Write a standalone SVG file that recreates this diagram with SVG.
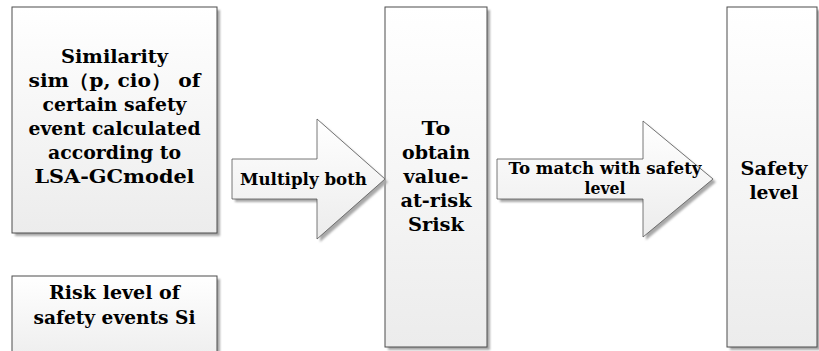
<svg xmlns="http://www.w3.org/2000/svg" width="819" height="351" viewBox="0 0 819 351">
  <defs>
    <linearGradient id="fillGrad" x1="0" y1="0" x2="0" y2="1">
      <stop offset="0" stop-color="#ffffff"/>
      <stop offset="1" stop-color="#ececec"/>
    </linearGradient>
    <filter id="shadow" x="-10%" y="-10%" width="130%" height="130%">
      <feGaussianBlur stdDeviation="1"/>
    </filter>
  </defs>
  <style>
    .box { fill: url(#fillGrad); stroke: #4d4d4d; stroke-width: 1; }
    .arrow { fill: url(#fillGrad); stroke: #555555; stroke-width: 0.8; }
    .shade { fill: #a8a8a8; filter: url(#shadow); }
    .lbl { font-family: "DejaVu Serif", "Liberation Serif", "Times New Roman", serif; font-weight: bold; fill: #000; text-anchor: middle; }
    .big { font-size: 19px; }
    .small { font-size: 16.3px; }
  </style>
  <rect width="819" height="351" fill="#ffffff"/>

  <!-- Box: similarity -->
  <g id="similarity">
    <rect class="shade" x="15" y="10" width="205" height="226"/>
    <rect class="box" x="12" y="7" width="205" height="226"/>
    <text class="lbl big" x="114.5" y="63" textLength="107" lengthAdjust="spacingAndGlyphs">Similarity</text>
    <text class="lbl big" x="114.5" y="87" textLength="172" lengthAdjust="spacingAndGlyphs">sim（p, cio） of</text>
    <text class="lbl big" x="114.5" y="111" textLength="144" lengthAdjust="spacingAndGlyphs">certain safety</text>
    <text class="lbl big" x="114.5" y="135" textLength="172" lengthAdjust="spacingAndGlyphs">event calculated</text>
    <text class="lbl big" x="114.5" y="159" textLength="133" lengthAdjust="spacingAndGlyphs">according to</text>
    <text class="lbl big" x="114.5" y="183" textLength="160" lengthAdjust="spacingAndGlyphs">LSA-GCmodel</text>
  </g>

  <!-- Box: risk level -->
  <g id="risk-level">
    <rect class="shade" x="15" y="279" width="205" height="90"/>
    <rect class="box" x="12" y="276" width="205" height="90"/>
    <text class="lbl big" x="114.5" y="299" textLength="131" lengthAdjust="spacingAndGlyphs">Risk level of</text>
    <text class="lbl big" x="114.5" y="324" textLength="162" lengthAdjust="spacingAndGlyphs">safety events Si</text>
  </g>

  <!-- Box: value-at-risk -->
  <g id="value-at-risk">
    <rect class="shade" x="388" y="10" width="102" height="340"/>
    <rect class="box" x="385" y="7" width="102" height="340"/>
    <text class="lbl big" x="436" y="135" textLength="29" lengthAdjust="spacingAndGlyphs">To</text>
    <text class="lbl big" x="436" y="159" textLength="68" lengthAdjust="spacingAndGlyphs">obtain</text>
    <text class="lbl big" x="436" y="183" textLength="65" lengthAdjust="spacingAndGlyphs">value-</text>
    <text class="lbl big" x="436" y="207" textLength="71" lengthAdjust="spacingAndGlyphs">at-risk</text>
    <text class="lbl big" x="436" y="231" textLength="56" lengthAdjust="spacingAndGlyphs">Srisk</text>
  </g>

  <!-- Box: safety level -->
  <g id="safety-level">
    <rect class="shade" x="730" y="10" width="90" height="340"/>
    <rect class="box" x="727" y="7" width="90" height="340"/>
    <text class="lbl big" x="774" y="175" textLength="67" lengthAdjust="spacingAndGlyphs">Safety</text>
    <text class="lbl big" x="774" y="199" textLength="49" lengthAdjust="spacingAndGlyphs">level</text>
  </g>

  <!-- Block arrows -->
  <g id="connectors">
    <g id="multiply-both">
      <polygon class="shade" points="235,162 320,162 320,122 388,182 320,242 320,202 235,202"/>
      <polygon class="arrow" points="232,159 317,159 317,119 385,179 317,239 317,199 232,199"/>
      <text class="lbl small" x="303.5" y="185" textLength="127" lengthAdjust="spacingAndGlyphs">Multiply both</text>
    </g>
    <g id="match-safety">
      <polygon class="shade" points="500,162 646,162 646,124 716,182 646,240 646,202 500,202"/>
      <polygon class="arrow" points="497,159 643,159 643,121 713,179 643,237 643,199 497,199"/>
      <text class="lbl small" x="605" y="174" textLength="193" lengthAdjust="spacingAndGlyphs">To match with safety</text>
      <text class="lbl small" x="605" y="194" textLength="41" lengthAdjust="spacingAndGlyphs">level</text>
    </g>
  </g>
</svg>
